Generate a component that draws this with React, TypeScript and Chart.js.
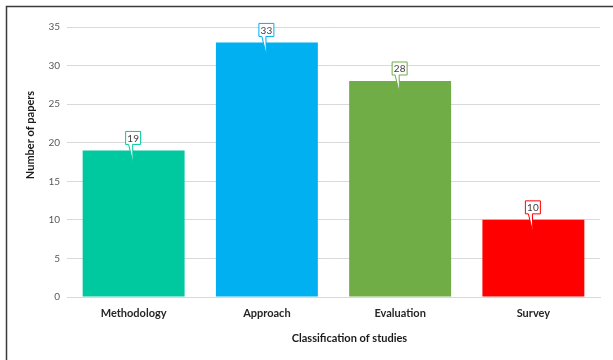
import React, { useEffect, useRef } from "react";
import { Chart, registerables } from "chart.js";

Chart.register(...registerables);

const categories = ["Methodology", "Approach", "Evaluation", "Survey"];
const paperCounts = [19, 33, 28, 10];
const barColors = ["#00C9A0", "#00B0F0", "#70AD47", "#FF0000"];
const yMax = 35;
const yStep = 5;
const xTitle = "Classification of studies";
const yTitle = "Number of papers";

const FONT = "Lato, 'Noto Sans', sans-serif";

// Draws the outer frame, the axis titles and the callout value labels
const decorations = {
  id: "decorations",
  beforeDraw(chart: any) {
    const { ctx, width, height } = chart;
    ctx.save();
    ctx.fillStyle = "#ffffff";
    ctx.fillRect(0, 0, width, height);
    ctx.restore();
  },
  afterDraw(chart: any) {
    const { ctx, chartArea, width, height } = chart;
    ctx.save();
    // frame
    ctx.strokeStyle = "#3a3a3a";
    ctx.lineWidth = 1.5;
    ctx.beginPath();
    ctx.moveTo(6.5, height);
    ctx.lineTo(6.5, 6.5);
    ctx.lineTo(width, 6.5);
    ctx.stroke();

    // axis titles
    ctx.fillStyle = "#1a1a1a";
    ctx.font = `bold 11px ${FONT}`;
    ctx.textAlign = "center";
    ctx.textBaseline = "middle";
    ctx.fillText(xTitle, chartArea.left + (chartArea.right - chartArea.left) * 0.53, 338);
    ctx.save();
    ctx.translate(30, chartArea.top + (chartArea.bottom - chartArea.top) * 0.4);
    ctx.rotate(-Math.PI / 2);
    ctx.fillText(yTitle, 0, 0);
    ctx.restore();

    // callout labels
    const meta = chart.getDatasetMeta(0);
    meta.data.forEach((bar: any, i: number) => {
      const x = bar.x;
      const y = bar.y;
      const color = barColors[i];
      const bw = 15;
      const bh = 13;
      const left = x - bw / 2 - 0.5;
      const bottom = y - 6;
      const top = bottom - bh;
      ctx.beginPath();
      ctx.moveTo(left, top);
      ctx.lineTo(left + bw, top);
      ctx.lineTo(left + bw, bottom);
      ctx.lineTo(x - 1, bottom);
      ctx.lineTo(x - 0.5, y + 13);
      ctx.lineTo(x - 5, bottom);
      ctx.lineTo(left, bottom);
      ctx.closePath();
      ctx.fillStyle = "#ffffff";
      ctx.fill();
      ctx.strokeStyle = color;
      ctx.lineWidth = 1;
      ctx.stroke();
      ctx.fillStyle = "#404040";
      ctx.font = `10px ${FONT}`;
      ctx.textAlign = "center";
      ctx.textBaseline = "middle";
      ctx.fillText(String(paperCounts[i]), left + bw / 2, top + bh / 2 + 0.5);
    });
    ctx.restore();
  },
};

export default function App() {
  const canvasRef = useRef<HTMLCanvasElement | null>(null);

  useEffect(() => {
    if (!canvasRef.current) return;
    const chart = new Chart(canvasRef.current, {
      type: "bar",
      data: {
        labels: categories,
        datasets: [
          {
            data: paperCounts,
            backgroundColor: barColors,
            borderWidth: 0,
            categoryPercentage: 1,
            barPercentage: 0.765,
          },
        ],
      },
      options: {
        responsive: false,
        animation: false,
        devicePixelRatio: 1,
        layout: { padding: { left: 0, top: 27, right: 13, bottom: 0 } },
        plugins: {
          legend: { display: false },
          tooltip: { enabled: false },
        },
        scales: {
          x: {
            grid: { display: false, drawTicks: false },
            border: { display: true, color: "#d9d9d9", width: 1 },
            ticks: {
              padding: 10,
              color: "#262626",
              font: { family: FONT, size: 11, weight: "bold" },
            },
            afterFit(scale: any) {
              scale.height = 63;
            },
          },
          y: {
            min: 0,
            max: yMax,
            ticks: {
              stepSize: yStep,
              padding: 7,
              color: "#595959",
              font: { family: FONT, size: 10 },
            },
            grid: { color: "#d9d9d9", lineWidth: 1, drawTicks: false },
            border: { display: false },
            afterFit(scale: any) {
              scale.width = 67;
            },
          },
        },
      },
      plugins: [decorations],
    });
    return () => chart.destroy();
  }, []);

  return (
    <div style={{ position: "absolute", left: 0, top: 0, width: 613, height: 360 }}>
      <canvas ref={canvasRef} width={613} height={360} />
    </div>
  );
}
